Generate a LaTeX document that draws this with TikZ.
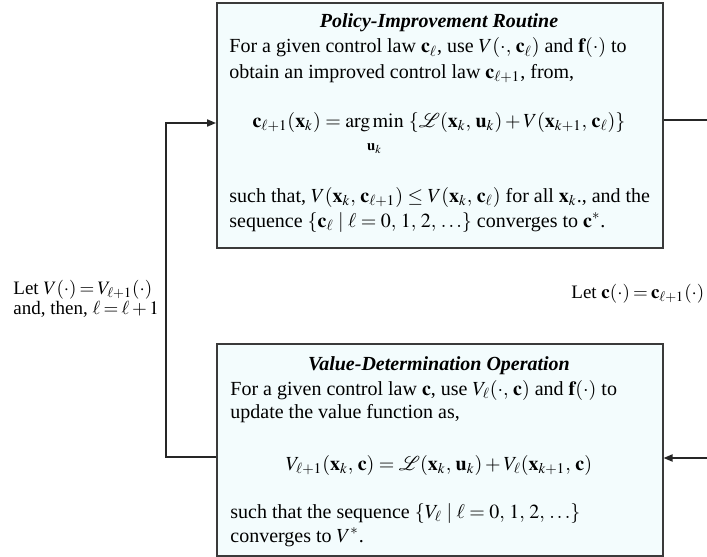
\documentclass[tikz,border=0pt]{standalone}
\usepackage{mathptmx}
\usepackage{fontspec}
\setmainfont{Liberation Serif}
\usetikzlibrary{arrows.meta,positioning}
\definecolor{bFill}{HTML}{F3FCFD}
\definecolor{bLine}{HTML}{3A3A3A}
\newcommand{\lblfont}{\fontsize{9.5}{11}\selectfont\thickmuskip=3mu\relax}
\tikzset{
  >={Triangle[length=4.5pt,width=3.6pt]},
  box/.style ={draw=bLine,fill=bFill,line width=0.8pt,anchor=north west,inner sep=0pt},
  txt/.style ={anchor=base west,inner sep=0pt,font=\fontsize{10}{12}\selectfont},
  ttl/.style ={anchor=base,inner sep=0pt,font=\fontsize{10}{12}\selectfont\bfseries\itshape},
  eqn/.style ={anchor=base,inner sep=0pt,font=\fontsize{10}{12}\selectfont},
  lbl/.style ={anchor=base west,inner sep=0pt,font=\lblfont},
  wire/.style={line width=0.7pt,black!85},
}

\begin{document}
\begin{tikzpicture}[x=0.5pt,y=-0.5pt]
  \useasboundingbox (0,0) rectangle (707,557);

  % ---- boxes ----
  \node[box,minimum width=223pt,minimum height=122.5pt] (pir) at (216,2) {};
  \node[box,minimum width=223pt,minimum height=106pt] (vdo) at (216,343) {};

  % ---- policy improvement ----
  \node[ttl] (pirT) at (439,27) {Policy-Improvement Routine};
  \node[txt] (pirA) at (229,53) {For a given control law $\mathbf{c}_\ell$, use $V(\cdot,\,\mathbf{c}_\ell)$ and $\mathbf{f}(\cdot)$ to};
  \node[txt] (pirB) at (229,78) {obtain an improved control law $\mathbf{c}_{\ell+1}$, from,};
  \node[eqn] (pirE) at (439,127) {$\displaystyle \mathbf{c}_{\ell+1}(\mathbf{x}_k) = \mathop{\mathrm{arg\,min}}\limits_{\rule{0pt}{8pt}\mathbf{u}_k}\ \{\mathcal{L}(\mathbf{x}_k,\,\mathbf{u}_k) + V(\mathbf{x}_{k+1},\,\mathbf{c}_\ell)\}$};
  \node[txt] (pirC) at (229,202) {such that, $V(\mathbf{x}_k,\,\mathbf{c}_{\ell+1}) \le V(\mathbf{x}_k,\,\mathbf{c}_\ell)$ for all $\mathbf{x}_k$., and the};
  \node[txt] (pirD) at (229,227) {sequence $\{\mathbf{c}_\ell \mid \ell = 0,\,1,\,2,\,\ldots\}$ converges to $\mathbf{c}^*$.};

  % ---- value determination ----
  \node[ttl] (vdoT) at (439,370) {Value-Determination Operation};
  \node[txt] (vdoA) at (230,395) {For a given control law $\mathbf{c}$, use $V_\ell(\cdot,\,\mathbf{c})$ and $\mathbf{f}(\cdot)$ to};
  \node[txt] (vdoB) at (230,418) {update the value function as,};
  \node[eqn] (vdoE) at (439,470) {$V_{\ell+1}(\mathbf{x}_k,\,\mathbf{c}) = \mathcal{L}(\mathbf{x}_k,\,\mathbf{u}_k) + V_\ell(\mathbf{x}_{k+1},\,\mathbf{c})$};
  \node[txt] (vdoC) at (230,518) {such that the sequence $\{V_\ell \mid \ell = 0,\,1,\,2,\,\ldots\}$};
  \node[txt] (vdoD) at (230,542) {converges to $V^*$.};

  % ---- labels ----
  \node[lbl] (lblL1) at (13,294) {Let $V(\cdot) = V_{\ell+1}(\cdot)$};
  \node[lbl] (lblL2) at (13,314) {and, then, $\ell = \ell+1$};
  \node[lbl] (lblR) at (571,298) {Let $\mathbf{c}(\cdot) = \mathbf{c}_{\ell+1}(\cdot)$};

  % ---- connectors ----
  \coordinate (outR) at (707,120);
  \coordinate (inR) at (707,458);
  \coordinate (lowL) at (166,457);
  \coordinate (upL) at (166,123);
  \draw[wire] (pir.east |- outR) -- (outR);
  \draw[wire,->] (inR) -- (vdo.east |- inR);
  \draw[wire,->] (vdo.west |- lowL) -- (lowL) -- (upL) -- (pir.west |- upL);
\end{tikzpicture}
\end{document}
